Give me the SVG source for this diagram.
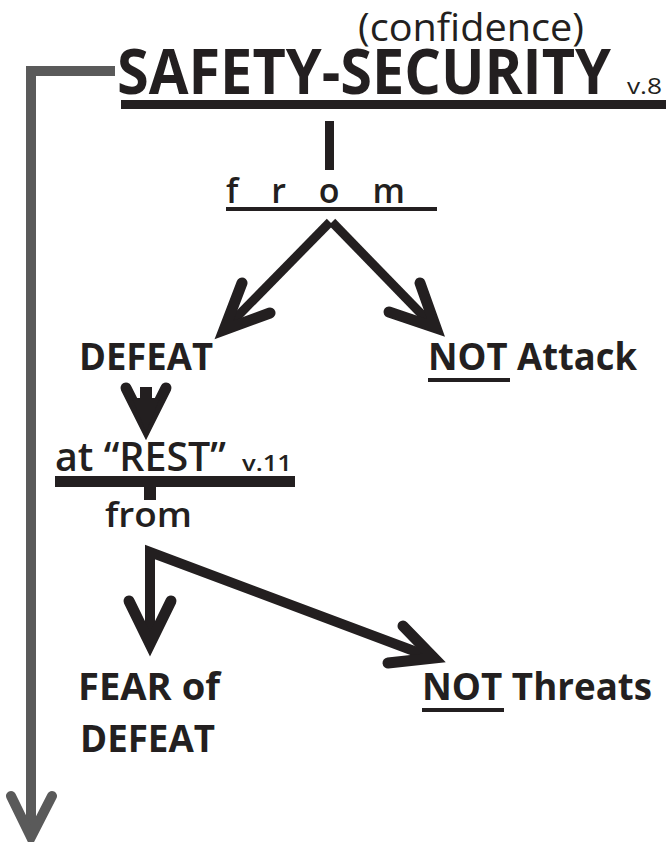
<svg xmlns="http://www.w3.org/2000/svg" width="666" height="842" viewBox="0 0 666 842">
<style>
text{font-family:"Open Sans","Noto Sans","DejaVu Sans",sans-serif;fill:#231f20}
.b{font-weight:bold}
.m{font-weight:600}
.blk{stroke:#231f20;fill:none}
.head{stroke:#231f20;fill:none;stroke-width:11;stroke-linecap:round;stroke-linejoin:miter;stroke-miterlimit:10}
</style>
<rect width="666" height="842" fill="#fff"/>
<g id="connectors">
<path d="M31 834 V71 H115" stroke="#5a5a5a" stroke-width="10" fill="none"/>
<polyline points="11,796 31,837 52,796" stroke="#5a5a5a" stroke-width="10" fill="none" stroke-linecap="round" stroke-linejoin="miter"/>
<rect x="325" y="121" width="9" height="49" fill="#231f20"/>
<path class="blk" d="M330 222 L227 327" stroke-width="9"/>
<path class="blk" d="M332 222 L433 326" stroke-width="9"/>
<polyline class="head" points="242,283 224,330 270,313"/>
<polyline class="head" points="420,283 436,328 389,312"/>
<rect x="140" y="387" width="12" height="12" fill="#231f20"/>
<polyline class="head" points="126,388 146,428 166,388"/>
<polygon points="132,398 160,398 146,432" fill="#231f20"/>
<rect x="144" y="486" width="12" height="14" fill="#231f20"/>
<path class="blk" d="M150 644 V552 L430 657" stroke-width="10" stroke-linejoin="miter"/>
<polyline class="head" points="129,601 150,644 171,601"/>
<polyline class="head" points="403,626 434,658 388,663"/>
</g>
<g id="title">
<text x="358" y="41" font-size="38" textLength="226" lengthAdjust="spacingAndGlyphs">(confidence)</text>
<text class="b" x="117" y="94" font-size="62" textLength="494" lengthAdjust="spacingAndGlyphs">SAFETY-SECURITY</text>
<text x="627" y="94" font-size="22" textLength="35" lengthAdjust="spacingAndGlyphs">v.8</text>
<rect x="121" y="100" width="545" height="9" fill="#231f20"/>
</g>
<g id="from1">
<text class="m" x="226" y="203" font-size="34" textLength="179" lengthAdjust="spacing">f r o m</text>
<rect x="226" y="207" width="211" height="4" fill="#231f20"/>
</g>
<g id="defeat">
<text class="b" x="79" y="370" font-size="38" textLength="134" lengthAdjust="spacingAndGlyphs">DEFEAT</text>
</g>
<g id="not-attack">
<text class="b" x="428" y="370" font-size="38" textLength="209" lengthAdjust="spacingAndGlyphs">NOT Attack</text>
<rect x="428" y="378" width="82" height="4" fill="#231f20"/>
</g>
<g id="at-rest">
<text class="m" x="55" y="471" font-size="39" textLength="171" lengthAdjust="spacingAndGlyphs">at “REST”</text>
<text class="m" x="242" y="471" font-size="21" textLength="50" lengthAdjust="spacingAndGlyphs">v.11</text>
<rect x="55" y="476" width="240" height="11" fill="#231f20"/>
</g>
<g id="from2">
<text class="m" x="105" y="527" font-size="34" textLength="87" lengthAdjust="spacingAndGlyphs">from</text>
</g>
<g id="fear-of-defeat">
<text class="b" x="78" y="700" font-size="38" textLength="142" lengthAdjust="spacingAndGlyphs">FEAR of</text>
<text class="b" x="80" y="752" font-size="38" textLength="135" lengthAdjust="spacingAndGlyphs">DEFEAT</text>
</g>
<g id="not-threats">
<text class="b" x="422" y="700" font-size="38" textLength="230" lengthAdjust="spacingAndGlyphs">NOT Threats</text>
<rect x="422" y="708" width="82" height="4" fill="#231f20"/>
</g>
</svg>
